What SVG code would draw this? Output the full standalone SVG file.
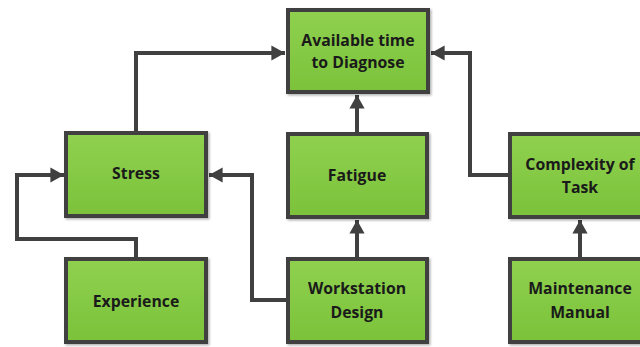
<svg xmlns="http://www.w3.org/2000/svg" width="640" height="347" viewBox="0 0 640 347">
<defs>
<linearGradient id="g" x1="0" y1="0" x2="0" y2="1">
<stop offset="0" stop-color="#8fd14f"/>
<stop offset="1" stop-color="#7bc23a"/>
</linearGradient>
<filter id="sh" x="-10%" y="-10%" width="125%" height="125%">
<feDropShadow dx="1.5" dy="1.5" stdDeviation="1.2" flood-color="#000" flood-opacity="0.3"/>
</filter>
<marker id="ah" markerWidth="4" markerHeight="4" refX="3.4" refY="2" orient="auto" markerUnits="strokeWidth">
<path d="M0,0.1 L3.4,2 L0,3.9 Z" fill="#404040"/>
</marker>
</defs>
<style>
.box{fill:url(#g);stroke:#404040;stroke-width:4;filter:url(#sh)}
.t{font-family:"Open Sans","Liberation Sans",sans-serif;font-weight:bold;font-size:15.8px;fill:#1a1a1a;text-anchor:middle;dominant-baseline:central}
.c{fill:none;stroke:#404040;stroke-width:4;marker-end:url(#ah)}
</style>
<rect width="640" height="347" fill="#ffffff"/>
<g id="connectors">
<path class="c" d="M136,133 V53 H285"/>
<path class="c" d="M580,175 H470 V53 H431"/>
<path class="c" d="M357,133 V95"/>
<path class="c" d="M357,258 V220"/>
<path class="c" d="M287,300 H252 V175 H209"/>
<path class="c" d="M136,258 V239 H17 V175 H64"/>
<path class="c" d="M580,258 V220"/>
</g>
<g id="available">
<rect class="box" x="288" y="10" width="140" height="82"/>
<text class="t" x="358" y="40">Available time</text>
<text class="t" x="358" y="62">to Diagnose</text>
</g>
<g id="stress">
<rect class="box" x="66" y="133" width="140" height="83"/>
<text class="t" x="136" y="173">Stress</text>
</g>
<g id="fatigue">
<rect class="box" x="288" y="134" width="139" height="83"/>
<text class="t" x="357" y="175">Fatigue</text>
</g>
<g id="complexity">
<rect class="box" x="510" y="134" width="140" height="83"/>
<text class="t" x="580" y="164">Complexity of</text>
<text class="t" x="580" y="187">Task</text>
</g>
<g id="experience">
<rect class="box" x="66" y="259" width="140" height="83"/>
<text class="t" x="136" y="301">Experience</text>
</g>
<g id="workstation">
<rect class="box" x="288" y="259" width="139" height="83"/>
<text class="t" x="357" y="288">Workstation</text>
<text class="t" x="357" y="312">Design</text>
</g>
<g id="maintenance">
<rect class="box" x="510" y="259" width="140" height="83"/>
<text class="t" x="580" y="288">Maintenance</text>
<text class="t" x="580" y="312">Manual</text>
</g>
</svg>
